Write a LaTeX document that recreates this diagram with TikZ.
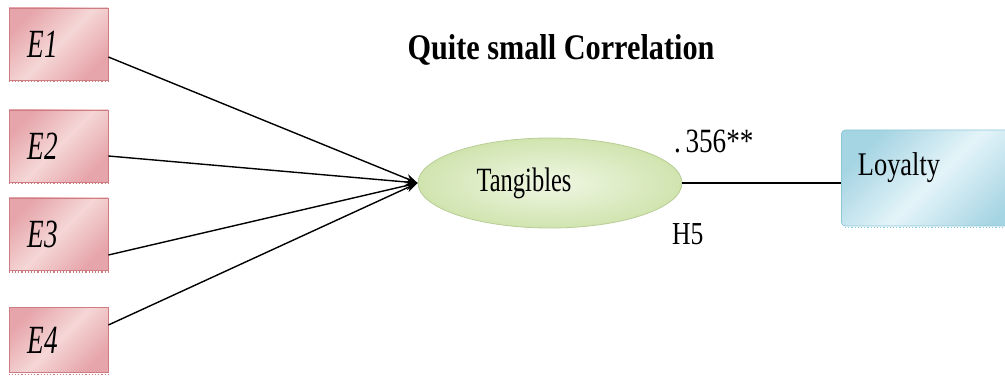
\documentclass[tikz,border=0pt]{standalone}
\usepackage{fontspec}
\setmainfont{Liberation Serif}
\usetikzlibrary{shapes.geometric,arrows.meta,shadings}
\definecolor{pinkA}{RGB}{245,214,214}
\definecolor{pinkB}{RGB}{230,165,170}
\definecolor{pinkE}{RGB}{205,125,130}
\definecolor{greenA}{RGB}{240,247,228}
\definecolor{greenB}{RGB}{208,228,175}
\definecolor{greenE}{RGB}{185,205,150}
\definecolor{blueA}{RGB}{228,244,249}
\definecolor{blueB}{RGB}{165,212,226}
\definecolor{blueE}{RGB}{140,200,215}
\tikzset{
  ebox/.style={draw=pinkE, line width=0.8pt, inner sep=0pt, minimum width=99pt, minimum height=72pt,
    left color=pinkB, right color=pinkB, middle color=pinkA, shading angle=45},
  conn/.style={line width=1.4pt, black},
  tipstyle/.style={-{Stealth[length=12pt,width=9pt]}},
}
\newcommand{\cond}[2]{\scalebox{#1}[1]{#2}}
\begin{document}
\begin{tikzpicture}[x=1pt,y=-1pt]
\useasboundingbox (0,0) rectangle (1005,377);
% boxes
\node[ebox] (e1) at (58.5,44) {};
\node[ebox] (e2) at (58.5,146) {};
\node[ebox] (e3) at (58.5,234) {};
\node[ebox, minimum height=65pt] (e4) at (58.5,340) {};
\foreach \b/\t in {e1/E1,e2/E2,e3/E3,e4/E4}{
  \node[inner sep=0pt, font=\fontsize{40}{44}\selectfont\itshape] at ([xshift=-16pt]\b.center) {\cond{0.68}{\t}};
  \draw[pinkE, line width=1.2pt, dotted] ([yshift=-1.5pt]\b.south west) -- ([yshift=-1.5pt]\b.south east);
}
% ellipse
\node[ellipse, draw=greenE, line width=0.8pt, minimum width=264pt, minimum height=90pt, inner sep=0pt,
  inner color=greenA, outer color=greenB] (tan) at (550,183) {};
\node[inner sep=0pt, font=\fontsize{34}{38}\selectfont] at (524,183) {\cond{0.72}{Tangibles}};
% loyalty
\node[draw=blueE, line width=0.8pt, inner sep=0pt, minimum width=190pt, minimum height=96pt, anchor=west,
  rounded corners=4pt, left color=blueB, right color=blueB, middle color=blueA, shading angle=45] (loy) at (841,178) {};
\node[inner sep=0pt, font=\fontsize{33}{36}\selectfont] at (899,168) {\cond{0.8}{Loyalty}};
\draw[blueE, line width=1.2pt, dotted] ([xshift=4pt,yshift=-1.5pt]loy.south west) -- ([yshift=-1.5pt]loy.south east);
% connectors
\coordinate (tip) at (tan.west);
\draw[conn, tipstyle] ([yshift=-13pt]e1.east) -- (tip);
\draw[conn, tipstyle] ([yshift=-10pt]e2.east) -- (tip);
\draw[conn, tipstyle] ([yshift=-21pt]e3.east) -- (tip);
\draw[conn, tipstyle] ([yshift=15pt]e4.east) -- (tip);
\draw[conn] (tan.east) -- (loy.west |- tan.east);
% labels
\node[inner sep=0pt, font=\fontsize{36}{40}\selectfont\bfseries] (title) at (561,50) {\cond{0.84}{Quite small Correlation}};
\node[inner sep=0pt, font=\fontsize{34}{38}\selectfont, anchor=base west] (coef) at (674,153) {\cond{0.8}{.\,356**}};
\node[inner sep=0pt, font=\fontsize{32}{36}\selectfont, anchor=base west] (h5) at (672,244) {\cond{0.8}{H5}};
\end{tikzpicture}
\end{document}
